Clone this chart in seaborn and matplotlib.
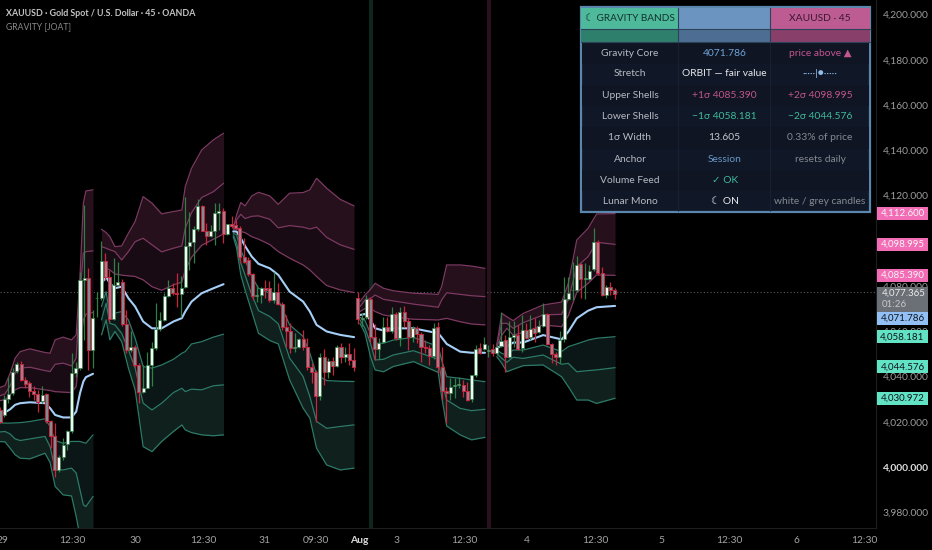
import numpy as np
import matplotlib
matplotlib.use("Agg")
import matplotlib.pyplot as plt
from matplotlib.patches import Rectangle
import seaborn as sns

# candles, one value per 45 min bar
opens = [4025.2,4023.0,4030.0,4032.6,4042.6,4045.4,4038.5,4037.0,4033.8,4032.3,
         4029.2,4032.1,4020.4,4013.9,3998.7,4004.3,4010.1,4016.0,4041.4,4043.7,
         4082.7,4083.4,4051.5,4074.6,4074.6,4091.2,4083.9,4065.5,4080.5,4081.7,
         4063.1,4051.5,4053.2,4045.1,4033.1,4035.1,4045.1,4052.5,4060.9,4065.0,
         4075.8,4079.0,4077.1,4076.5,4079.5,4097.7,4099.6,4105.1,4115.4,4104.1,
         4102.3,4104.1,4112.2,4113.2,4102.9,4107.4,4106.9,4105.5,4092.6,4091.5,
         4085.2,4075.6,4076.1,4079.0,4079.3,4073.9,4077.5,4072.1,4061.8,4060.3,
         4052.6,4052.9,4056.5,4053.2,4044.1,4041.9,4031.6,4048.5,4041.9,4046.9,
         4044.8,4052.9,4048.8,4050.0,4047.3,4074.5,4065.6,4066.2,4074.3,4057.6,
         4052.2,4055.1,4061.7,4060.3,4067.5,4056.9,4068.4,4064.7,4057.6,4061.3,
         4058.8,4052.9,4052.5,4049.1,4061.9,4044.4,4033.7,4032.6,4036.0,4036.2,
         4036.2,4033.7,4029.9,4040.7,4052.4,4052.2,4051.4,4052.2,4050.5,4053.5,
         4056.1,4048.8,4057.6,4058.3,4052.5,4060.6,4057.3,4061.3,4059.5,4062.3,
         4067.5,4054.4,4050.0,4048.8,4056.4,4074.4,4078.1,4078.2,4089.7,4083.2,
         4083.2,4087.4,4099.3,4085.6,4076.0,4079.7,4078.2]
highs = [4026.7,4031.9,4040.0,4043.7,4046.6,4047.0,4040.0,4037.8,4035.6,4034.1,
         4035.6,4032.6,4020.8,4019.4,4005.4,4012.7,4016.4,4050.3,4046.6,4086.4,
         4115.8,4087.8,4069.4,4077.5,4099.9,4094.5,4087.1,4092.3,4090.8,4083.0,
         4069.4,4059.9,4054.0,4045.9,4045.1,4051.0,4055.4,4072.4,4068.7,4076.8,
         4082.7,4081.5,4085.9,4084.2,4119.5,4112.9,4106.3,4118.3,4115.8,4108.0,
         4107.0,4116.6,4116.6,4114.4,4107.3,4111.0,4109.2,4106.3,4101.1,4093.0,
         4085.6,4080.5,4079.7,4082.7,4082.4,4086.4,4081.2,4073.1,4067.2,4063.5,
         4059.1,4056.9,4060.6,4056.9,4045.9,4042.9,4050.3,4052.1,4048.1,4048.8,
         4054.0,4054.7,4053.2,4054.7,4052.5,4077.5,4067.9,4076.0,4075.3,4063.2,
         4056.9,4066.4,4066.2,4070.6,4068.7,4070.6,4071.2,4065.7,4062.3,4062.3,
         4059.8,4056.1,4053.9,4063.8,4064.2,4053.2,4035.5,4039.2,4039.2,4039.9,
         4038.5,4037.7,4040.7,4053.9,4055.0,4057.6,4053.9,4054.4,4053.9,4068.7,
         4058.3,4064.7,4064.7,4062.8,4067.2,4063.5,4067.2,4065.7,4065.0,4072.6,
         4068.2,4054.7,4051.0,4060.3,4083.8,4084.1,4090.7,4093.3,4090.0,4090.0,
         4089.3,4105.8,4100.3,4088.5,4080.4,4081.9,4079.0]
lows = [4019.4,4022.3,4028.2,4031.9,4041.5,4037.8,4034.8,4031.1,4029.7,4024.5,
        4028.2,4019.4,4008.3,3995.8,3998.0,4003.2,4007.6,4014.9,4040.0,4042.9,
        4056.2,4042.9,4043.7,4066.5,4073.9,4082.7,4064.3,4065.0,4080.5,4062.1,
        4050.3,4051.0,4044.4,4028.2,4032.6,4034.8,4035.6,4051.8,4060.3,4064.7,
        4075.3,4076.1,4070.9,4066.5,4079.0,4087.1,4090.1,4104.1,4104.1,4098.2,
        4101.8,4098.2,4104.8,4098.9,4102.6,4105.5,4104.8,4090.1,4090.1,4084.2,
        4073.9,4073.1,4072.4,4074.6,4073.1,4072.7,4071.6,4060.6,4053.2,4050.3,
        4051.0,4052.5,4051.8,4042.9,4037.0,4020.1,4029.7,4036.3,4039.2,4040.7,
        4044.4,4045.9,4046.6,4045.1,4042.6,4063.2,4062.3,4065.3,4055.4,4047.3,
        4047.6,4054.7,4059.8,4059.4,4056.1,4053.6,4062.0,4051.7,4055.4,4054.7,
        4046.3,4050.5,4045.1,4047.6,4041.4,4029.6,4019.3,4029.6,4030.4,4034.8,
        4031.1,4029.3,4028.9,4039.9,4049.9,4051.7,4048.5,4049.1,4049.5,4053.2,
        4042.1,4048.0,4053.2,4051.7,4051.0,4056.4,4056.1,4055.4,4059.1,4062.0,
        4053.9,4045.8,4045.1,4045.8,4055.4,4073.8,4073.8,4077.5,4074.5,4074.3,
        4082.6,4086.8,4084.9,4075.6,4074.5,4076.0,4074.1]
closes = [4020.1,4030.0,4032.3,4042.2,4045.4,4038.5,4036.6,4033.8,4032.3,4028.9,
          4031.9,4020.4,4013.9,3998.7,4004.2,4009.8,4015.7,4041.4,4043.7,4082.7,
          4083.4,4051.5,4065.8,4074.8,4091.1,4083.9,4065.5,4080.5,4081.7,4063.1,
          4051.8,4053.2,4045.1,4033.3,4035.1,4045.1,4052.5,4060.9,4064.9,4075.6,
          4079.0,4077.1,4076.5,4079.3,4097.7,4099.3,4105.1,4115.4,4104.5,4102.1,
          4104.1,4112.2,4113.2,4102.9,4107.3,4106.6,4105.5,4092.6,4090.8,4085.2,
          4075.6,4076.1,4079.3,4078.3,4073.6,4077.4,4072.1,4061.8,4060.3,4052.8,
          4052.9,4056.5,4053.2,4044.1,4041.9,4031.6,4048.5,4041.9,4047.0,4044.8,
          4052.9,4048.8,4049.8,4047.3,4044.4,4065.3,4065.9,4074.3,4057.6,4052.2,
          4055.0,4061.7,4060.1,4067.5,4056.9,4068.4,4064.7,4057.6,4061.3,4058.8,
          4052.9,4052.5,4049.1,4061.6,4044.4,4033.7,4032.6,4035.5,4036.2,4036.5,
          4033.7,4029.6,4040.7,4052.2,4050.5,4054.4,4051.6,4050.2,4053.2,4055.7,
          4048.8,4057.6,4058.3,4052.2,4060.6,4056.9,4060.8,4059.4,4062.3,4067.5,
          4054.4,4049.8,4048.8,4056.1,4074.1,4077.1,4078.3,4089.3,4083.1,4083.4,
          4086.8,4099.3,4085.6,4076.0,4079.4,4078.2,4076.5]

# bands, one block per session: bar number then the seven levels
s1_x = [-0.5,1.2,2.4,3.6,4.8,7.1,10.7,11.9,13.1,15.0,17.0,18.1,19.0,19.8,20.4,22.1]
s1_up3 = [4034.8,4036.0,4041.4,4048.1,4051.0,4052.2,4050.6,4050.3,4056.2,4057.4,4056.2,4058.4,4084.2,4116.6,4122.0,4122.5]
s1_up2 = [4031.1,4032.3,4035.9,4041.4,4043.7,4044.1,4042.6,4042.2,4045.4,4045.9,4044.7,4048.1,4076.8,4094.5,4095.2,4095.5]
s1_up1 = [4029.2,4029.7,4031.9,4034.1,4035.1,4035.1,4034.1,4033.8,4033.3,4033.1,4032.9,4035.6,4053.2,4065.0,4067.5,4068.3]
s1_core = [4023.0,4024.1,4025.5,4027.5,4028.2,4028.6,4028.2,4026.0,4023.0,4021.9,4021.9,4024.5,4032.6,4037.8,4039.7,4041.2]
s1_dn1 = [4019.6,4019.4,4019.4,4019.5,4019.6,4020.1,4021.3,4017.9,4011.7,4010.5,4011.3,4011.3,4011.3,4010.8,4010.5,4014.2]
s1_dn2 = [4015.4,4015.7,4014.6,4012.4,4011.7,4012.4,4013.5,4009.0,3999.0,3998.7,3999.5,3997.3,3989.9,3983.3,3982.5,3987.0]
s1_dn3 = [4011.3,4011.1,4008.3,4005.4,4003.9,4003.6,4006.1,4002.0,3991.4,3987.7,3987.2,3978.1,3969.3,3956.0,3954.5,3959.7]

s2_x = [24.1,25.2,26.1,27.3,28.9,30.5,32.1,34.0,36.1,38.4,41.2,43.2,44.0,45.5,47.9,50.7,53.1]
s2_up3 = [4105.1,4103.6,4101.8,4097.4,4097.7,4103.3,4108.5,4119.5,4116.6,4111.9,4112.9,4113.6,4123.9,4132.0,4140.1,4144.6,4147.5]
s2_up2 = [4097.4,4096.7,4096.0,4095.2,4091.5,4095.2,4099.6,4101.1,4098.2,4095.1,4096.7,4097.7,4105.5,4112.4,4119.1,4121.7,4125.4]
s2_up1 = [4088.6,4087.8,4087.1,4085.3,4084.8,4084.5,4084.2,4082.7,4079.7,4078.1,4080.5,4081.7,4087.1,4092.7,4098.0,4100.7,4103.0]
s2_core = [4081.2,4083.9,4081.2,4079.0,4079.7,4074.6,4070.9,4064.3,4061.3,4061.3,4064.3,4065.8,4068.7,4073.1,4076.8,4079.0,4080.8]
s2_dn1 = [4070.9,4077.5,4066.5,4068.0,4068.7,4065.0,4056.9,4044.4,4043.7,4045.1,4047.6,4050.3,4051.0,4054.4,4055.4,4057.4,4058.7]
s2_dn2 = [4065.0,4072.4,4063.5,4062.8,4059.1,4051.8,4043.7,4028.2,4025.2,4028.2,4032.9,4034.8,4033.3,4034.4,4034.1,4035.9,4036.3]
s2_dn3 = [4058.4,4065.0,4056.2,4059.9,4055.4,4043.7,4034.1,4009.0,4006.8,4011.3,4015.7,4018.6,4016.4,4015.2,4014.2,4013.8,4014.2]

s3_x = [55.4,56.2,57.2,58.2,59.8,61.4,64.1,66.1,68.8,72.0,73.6,75.2,77.6,80.8,84.1]
s3_up3 = [4105.5,4111.4,4116.9,4115.4,4119.8,4121.4,4119.8,4116.1,4121.0,4121.3,4122.5,4127.6,4123.2,4118.3,4115.4]
s3_up2 = [4106.3,4109.2,4111.7,4109.8,4110.8,4111.0,4109.5,4105.7,4106.7,4106.0,4105.2,4106.0,4101.5,4098.2,4096.2]
s3_up1 = [4104.8,4105.5,4104.1,4103.6,4101.8,4100.7,4098.3,4095.2,4092.3,4089.3,4087.1,4084.2,4080.2,4078.3,4077.1]
s3_core = [4104.1,4104.1,4101.1,4097.7,4093.0,4089.8,4087.8,4084.9,4077.5,4073.1,4068.7,4062.8,4059.9,4058.4,4057.4]
s3_dn1 = [4103.3,4102.6,4095.9,4091.5,4084.2,4079.0,4076.8,4073.9,4062.8,4057.7,4050.3,4040.7,4038.2,4037.9,4037.8]
s3_dn2 = [4102.6,4098.9,4090.1,4084.9,4076.1,4069.1,4066.5,4063.3,4048.1,4040.0,4031.1,4020.1,4017.1,4017.9,4018.6]
s3_dn3 = [4101.8,4096.7,4084.9,4078.3,4068.7,4059.1,4055.9,4054.4,4038.5,4026.0,4021.6,4008.3,4000.9,3998.7,3999.5]

s4_x = [85.5,86.7,88.0,89.1,91.1,93.4,98.2,104.1,104.9,106.1,109.3,112.0,115.2]
s4_up3 = [4073.1,4076.0,4078.5,4081.2,4079.0,4077.9,4076.8,4076.3,4079.7,4089.3,4089.3,4088.8,4087.8]
s4_up2 = [4070.9,4073.8,4074.5,4076.0,4074.1,4073.4,4072.0,4070.6,4073.8,4077.0,4076.3,4075.7,4075.3]
s4_up1 = [4068.7,4070.1,4070.1,4068.7,4067.2,4066.4,4065.3,4065.0,4065.3,4065.7,4064.2,4063.2,4062.8]
s4_core = [4067.2,4067.6,4065.0,4061.3,4060.3,4061.3,4061.3,4059.1,4057.3,4054.4,4051.0,4050.5,4050.5]
s4_dn1 = [4066.2,4064.7,4059.1,4054.7,4054.7,4056.1,4057.3,4053.3,4047.3,4039.9,4039.2,4038.5,4037.7]
s4_dn2 = [4065.0,4061.3,4054.7,4047.3,4047.6,4049.5,4051.4,4047.6,4038.5,4029.6,4025.9,4024.9,4025.5]
s4_dn3 = [4063.5,4059.1,4048.8,4042.9,4042.1,4044.4,4046.6,4041.8,4031.1,4018.1,4014.2,4012.0,4013.1]

s5_x = [118.0,119.2,120.4,121.9,124.3,129.0,133.4,135.0,137.0,139.7,141.7,146.1]
s5_up3 = [4053.9,4067.9,4066.4,4064.7,4067.9,4071.6,4072.9,4081.2,4100.3,4105.5,4111.8,4112.0]
s5_up2 = [4053.5,4063.5,4063.5,4061.3,4063.8,4067.2,4067.5,4074.1,4088.5,4093.0,4099.3,4098.4]
s5_up1 = [4053.0,4058.3,4061.3,4058.3,4059.4,4062.8,4062.0,4066.9,4077.2,4081.2,4084.9,4084.7]
s5_core = [4052.4,4053.9,4053.2,4055.0,4055.0,4058.3,4056.4,4059.8,4065.7,4069.1,4070.6,4071.2]
s5_dn1 = [4051.7,4050.2,4049.5,4051.7,4051.7,4053.9,4051.0,4053.2,4054.4,4056.1,4056.9,4057.6]
s5_dn2 = [4050.2,4048.0,4046.3,4048.5,4048.0,4049.5,4045.4,4045.8,4042.1,4042.6,4042.9,4043.9]
s5_dn3 = [4048.8,4045.8,4042.1,4043.2,4044.8,4045.1,4039.9,4035.5,4029.6,4029.6,4028.1,4030.4]

sessions = [
    (s1_x, s1_up3, s1_up2, s1_up1, s1_core, s1_dn1, s1_dn2, s1_dn3),
    (s2_x, s2_up3, s2_up2, s2_up1, s2_core, s2_dn1, s2_dn2, s2_dn3),
    (s3_x, s3_up3, s3_up2, s3_up1, s3_core, s3_dn1, s3_dn2, s3_dn3),
    (s4_x, s4_up3, s4_up2, s4_up1, s4_core, s4_dn1, s4_dn2, s4_dn3),
    (s5_x, s5_up3, s5_up2, s5_up1, s5_core, s5_dn1, s5_dn2, s5_dn3),
]

last_price = 4077.365
divider_bars = [88.1, 116.2]
divider_colors = ["#0e2620", "#2a101c"]

time_ticks = [0.7, 17.1, 32.1, 48.2, 62.9, 75.1, 85.3, 94.1, 110.2, 125.2, 141.3, 157.2, 173.2, 189.1, 205.2]
time_labels = ["29", "12:30", "30", "12:30", "31", "09:30", "Aug", "3", "12:30", "4", "12:30", "5", "12:30", "6", "12:30"]
price_ticks = [3980, 4000, 4020, 4040, 4060, 4080, 4100, 4120, 4140, 4160, 4180, 4200]

tag_text = ["4,112.600", "4,098.995", "4,085.390", "4,071.786", "4,058.181", "4,044.576", "4,030.972"]
tag_y = [213.3, 244, 275, 318, 336.7, 366.7, 398]
tag_fill = ["#f26db5", "#f26db5", "#f26db5", "#92c0f5", "#62e3c3", "#62e3c3", "#62e3c3"]
tag_ink = ["#f5f5f5", "#f5f5f5", "#f5f5f5", "#10141c", "#10141c", "#10141c", "#10141c"]

table_rows = ["Gravity Core", "Stretch", "Upper Shells", "Lower Shells", "1σ Width", "Anchor", "Volume Feed", "Lunar Mono"]
table_mid = ["4071.786", "ORBIT — fair value", "+1σ 4085.390", "−1σ 4058.181", "13.605", "Session", "✓ OK", "☾ ON"]
table_right = ["price above ▲", "·····|●·····", "+2σ 4098.995", "−2σ 4044.576", "0.33% of price", "resets daily", "", "white / grey candles"]
mid_ink = ["#6fa3d6", "#e6e8ec", "#c2568a", "#3fbb9c", "#c4c8ce", "#6898c8", "#3fbb9c", "#e6e8ec"]
right_ink = ["#c2568f", "#8fbdea", "#c2568a", "#3fbb9c", "#858a92", "#858a92", "#858a92", "#858a92"]

sns.set_theme(style="dark", rc={"axes.facecolor": "black", "figure.facecolor": "black"})
plt.rcParams["font.family"] = ["Lato", "DejaVu Sans"]

fig = plt.figure(figsize=(9.32, 5.5), dpi=100)
ax = fig.add_axes([0, 22 / 550, 876 / 932, 528 / 550])

for bar, col in zip(divider_bars, divider_colors):
    ax.axvspan(bar - 0.45, bar + 0.45, color=col, lw=0, zorder=0)
ax.axhline(last_price, color="#5a5a5a", lw=0.8, ls=(0, (1, 2)), zorder=0.5)

for x, up3, up2, up1, core, dn1, dn2, dn3 in sessions:
    ax.fill_between(x, up2, up3, color="#25101b", lw=0, zorder=1)
    ax.fill_between(x, up1, up2, color="#190b13", lw=0, zorder=1)
    ax.fill_between(x, dn2, dn1, color="#0b1716", lw=0, zorder=1)
    ax.fill_between(x, dn3, dn2, color="#0f201d", lw=0, zorder=1)
    for level in (up3, up2, up1):
        sns.lineplot(x=x, y=level, ax=ax, color="#7c3a62", lw=0.9, sort=False, estimator=None, legend=False, zorder=2)
    for level in (dn1, dn2, dn3):
        sns.lineplot(x=x, y=level, ax=ax, color="#2d7a68", lw=0.9, sort=False, estimator=None, legend=False, zorder=2)
    sns.lineplot(x=x, y=core, ax=ax, color="#a6cff8", lw=1.5, sort=False, estimator=None, legend=False, zorder=2.2)

bars = np.arange(len(opens))
o = np.array(opens)
c = np.array(closes)
rising = c >= o
ax.vlines(bars[rising], np.array(lows)[rising], np.array(highs)[rising], color="#2f7f47", lw=0.9, zorder=3)
ax.vlines(bars[~rising], np.array(lows)[~rising], np.array(highs)[~rising], color="#c8263e", lw=0.9, zorder=3)
ax.bar(bars[rising], (c - o)[rising], bottom=o[rising], width=0.72, color="#f6f8f6", edgecolor="#2f7f47", lw=0.5, zorder=3.2)
ax.bar(bars[~rising], (o - c)[~rising], bottom=c[~rising], width=0.72, color="#8a8791", edgecolor="#c8263e", lw=0.7, zorder=3.2)

ax.set_xlim(0, 876 / 4.21)
ax.set_ylim(4200 - (528 - 14.5) / 2.2625, 4200 + 14.5 / 2.2625)
ax.yaxis.tick_right()
ax.set_yticks(price_ticks)
ax.set_yticklabels([f"{p:,.3f}" for p in price_ticks], fontsize=7.4, color="#9c9c9c")
ax.set_xticks(time_ticks)
ax.set_xticklabels(time_labels, fontsize=7.4, color="#a4a4a4")
ax.tick_params(axis="both", length=0)
ax.tick_params(axis="y", pad=5)
ax.tick_params(axis="x", pad=6)
ax.set_xlabel("")
ax.set_ylabel("")
ax.grid(False)
for name, sp in ax.spines.items():
    sp.set_visible(name in ("right", "bottom"))
    sp.set_color("#1e1e1e")
    sp.set_linewidth(0.8)
for lab in ax.get_xticklabels():
    if lab.get_text() == "Aug":
        lab.set_fontweight("bold")
        lab.set_color("#dcdcdc")
for lab in ax.get_yticklabels():
    if lab.get_text().startswith("4,000"):
        lab.set_fontweight("bold")
        lab.set_color("#dcdcdc")

# overlay in picture pixels for the header, panel and price tags
top = fig.add_axes([0, 0, 1, 1], zorder=5)
top.set_xlim(0, 932)
top.set_ylim(550, 0)
top.axis("off")
top.patch.set_alpha(0)

top.text(6, 13, "XAUUSD · Gold Spot / U.S. Dollar · 45 · OANDA", fontsize=6.4, fontweight="bold", color="#c4c4c4", va="center")
top.text(6, 27, "GRAVITY [JOAT]", fontsize=6.2, color="#8a8a8a", va="center")

col_edges = [581, 678.3, 770.3, 870]
col_mid = [630, 724.7, 820]
row_mid = [53, 74, 95.3, 116.7, 138, 159, 180.3, 201.3]
top.add_patch(Rectangle((581, 7), 289, 205, fc="#101726", ec="#5b87ae", lw=1.6))
for i, (a, b) in enumerate(zip(col_edges[:-1], col_edges[1:])):
    top.add_patch(Rectangle((a, 8), b - a, 20.5, fc=["#4fb99c", "#6b94c0", "#bd5b93"][i], lw=0))
    top.add_patch(Rectangle((a, 29), b - a, 12.5, fc=["#2f7f6d", "#4d6e92", "#88406a"][i], lw=0))
for a in col_edges[1:-1]:
    top.plot([a, a], [8, 41.5], color="#2c4258", lw=0.8)
    top.plot([a, a], [41.5, 211], color="#1a2333", lw=0.6)
top.plot([581, 870], [28.8, 28.8], color="#2c4258", lw=0.8)
top.plot([581, 870], [41.8, 41.8], color="#2c4258", lw=0.8)
for i, y in enumerate(row_mid):
    if i % 2 == 0:
        top.add_patch(Rectangle((582, y - 10.6), 287, 21.2, fc="#0f1523", lw=0))
top.text(col_mid[0], 18.3, "☾ GRAVITY BANDS", fontsize=7.2, color="#12332d", ha="center", va="center")
top.text(col_mid[2], 18.3, "XAUUSD · 45", fontsize=7.4, color="#3a1730", ha="center", va="center")
for i, y in enumerate(row_mid):
    top.text(col_mid[0], y, table_rows[i], fontsize=7.4, color="#b6bac2", ha="center", va="center")
    top.text(col_mid[1], y, table_mid[i], fontsize=7.4, color=mid_ink[i], ha="center", va="center")
    top.text(col_mid[2], y, table_right[i], fontsize=7.4, color=right_ink[i], ha="center", va="center")

for label, y, fill, ink in zip(tag_text, tag_y, tag_fill, tag_ink):
    top.add_patch(Rectangle((877, y - 6.5), 51, 13, fc=fill, lw=0))
    top.text(902.5, y, label, fontsize=7.0, color=ink, ha="center", va="center")
top.add_patch(Rectangle((877, 287), 51, 24.5, fc="#6b6f76", lw=0))
top.text(882, 293, f"{last_price:,.3f}", fontsize=7.0, color="#ececec", va="center")
top.text(882, 304.5, "01:26", fontsize=7.0, color="#c8c8c8", va="center")

fig.savefig("out.png", dpi=100, facecolor="black")
